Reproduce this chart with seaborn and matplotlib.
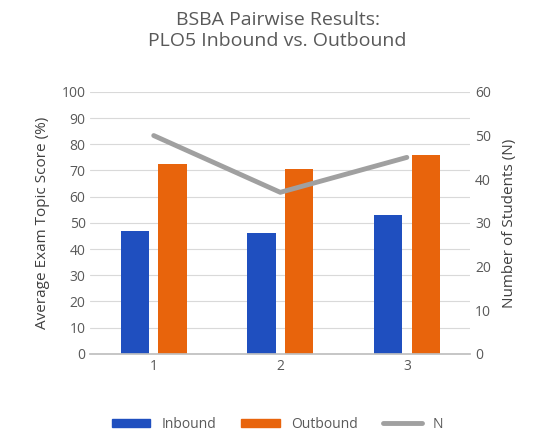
import matplotlib
matplotlib.use("Agg")
import matplotlib.pyplot as plt
import seaborn as sns
import pandas as pd
import numpy as np

groups = ["1", "2", "3"]
inbound = [47, 46, 53.2]
outbound = [72.5, 70.5, 76]
n_students = [50, 37, 45]

sns.set_theme(style="white")
plt.rcParams['font.family'] = ['Open Sans', 'DejaVu Sans']

df = pd.DataFrame({"Group": groups * 2,
                   "Score": inbound + outbound,
                   "Series": ["Inbound"] * 3 + ["Outbound"] * 3})

fig = plt.figure(figsize=(5.55, 4.44), dpi=100)
ax = fig.add_axes([0.163, 0.203, 0.684, 0.59])
sns.barplot(data=df, x="Group", y="Score", hue="Series", ax=ax,
            palette=["#1F4FBF", "#E8640C"], width=0.6, gap=0.25, legend=False,
            saturation=1, linewidth=0)
ax.set_ylim(0, 100)
ax.set_yticks(range(0, 101, 10))
ax.yaxis.grid(True, color="#D9D9D9", lw=0.8)
ax.set_axisbelow(True)
for s in ["top", "right", "left"]:
    ax.spines[s].set_visible(False)
ax.spines["bottom"].set_color("#BFBFBF")
ax.set_xlabel("")
ax.set_ylabel("Average Exam Topic Score (%)", fontsize=11, color="#404040", labelpad=8)
ax.tick_params(colors="#595959", labelsize=10, length=0)

ax2 = ax.twinx()
ax2.plot(range(3), n_students, color="#A0A0A0", lw=3.5)
ax2.set_ylim(0, 60)
ax2.set_yticks(range(0, 61, 10))
for s in ["top", "right", "left", "bottom"]:
    ax2.spines[s].set_visible(False)
ax2.set_ylabel("Number of Students (N)", fontsize=11, color="#404040", labelpad=8)
ax2.tick_params(colors="#595959", labelsize=10, length=0)
ax.set_xlim(-0.5, 2.5)

fig.suptitle("BSBA Pairwise Results:\nPLO5 Inbound vs. Outbound", y=0.975,
             fontsize=14, color="#595959")

from matplotlib.patches import Patch
from matplotlib.lines import Line2D
handles = [Patch(color="#1F4FBF"), Patch(color="#E8640C"),
           Line2D([0], [0], color="#A0A0A0", lw=3.5)]
fig.legend(handles, ["Inbound", "Outbound", "N"], loc="lower center",
           ncol=3, frameon=False, bbox_to_anchor=(0.5, 0.0),
           fontsize=10, handlelength=2.8, handleheight=0.5, columnspacing=1.8,
           labelcolor="#595959")
fig.savefig("out.png", dpi=100)
